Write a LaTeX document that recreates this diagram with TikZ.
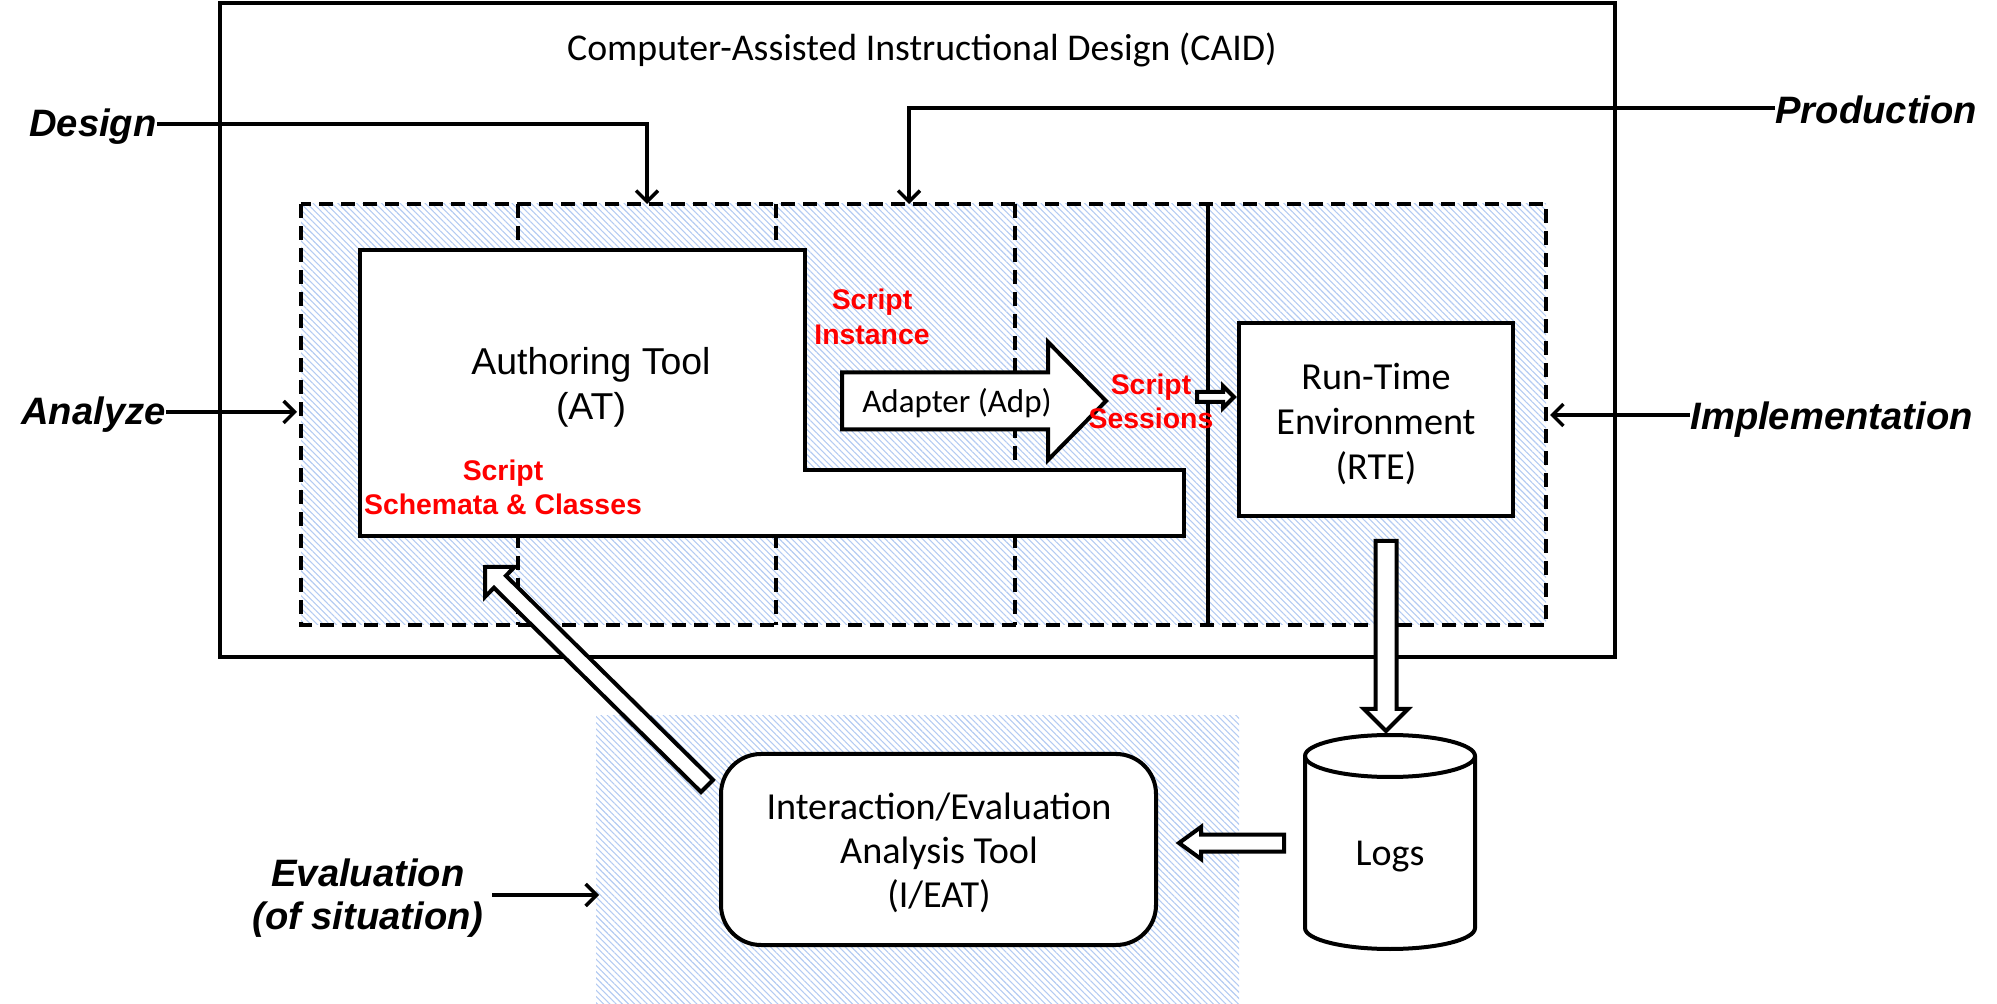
\documentclass[tikz,border=0pt]{standalone}
\usepackage{fontspec}
\setmainfont{Carlito}
\newfontfamily\arialf{Liberation Sans}
\usetikzlibrary{calc,arrows.meta,patterns.meta}
\definecolor{hatchblue}{RGB}{180,203,242}
\tikzset{
  shapeline/.style={line width=2pt, draw=black, fill=white},
  dashline/.style={line width=1.6pt, dash pattern=on 7pt off 4pt},
  hatch/.style={pattern={Lines[angle=-45,distance=2.2pt,line width=0.55pt]}, pattern color=hatchblue},
  thinarrow/.style={line width=1.7pt, -{Straight Barb[length=5.5pt,width=11pt]}},
  phase/.style={font=\arialf\bfseries\itshape\fontsize{19.1}{21.5}\selectfont, inner sep=0pt, align=center},
  redlbl/.style={font=\arialf\bfseries\fontsize{14.2}{17}\selectfont, text=red, align=center, inner sep=0pt},
  boxtext/.style={font=\fontsize{19.1}{22.5}\selectfont, align=center, inner sep=0pt},
  barrow/.style={line width=2pt, draw=black, fill=white, line join=miter},
}
% block arrow: #1 tail, #2 tip, #3 shaft half width, #4 head half width, #5 head length
\newcommand\blockarr[5]{%
  \coordinate (ba-h) at ($(#2)!#5!(#1)$);
  \draw[barrow] ($(#1)!#3!90:(#2)$) -- ($(ba-h)!#3!-90:(#1)$) -- ($(ba-h)!#4!-90:(#1)$) -- (#2)
     -- ($(ba-h)!#4!90:(#1)$) -- ($(ba-h)!#3!90:(#1)$) -- ($(#1)!#3!-90:(#2)$) -- cycle;
}
\begin{document}
\begin{tikzpicture}[x=0.5pt,y=-0.5pt]
\useasboundingbox (0,0) rectangle (1997,1004);

% outer CAID frame
\draw[line width=1.8pt] (220,3) rectangle (1615,657);
\node[font=\fontsize{18.9}{22}\selectfont] (caid) at (922,50) {Computer-Assisted Instructional Design (CAID)};

% hatched phase region
\fill[hatch] (301,204) rectangle (1546,625);
\draw[dashline] (301,204) rectangle (1546,625);
\draw[dashline] (518,204) -- (518,625);
\draw[dashline] (776,204) -- (776,625);
\draw[dashline] (1015,204) -- (1015,625);
\draw[line width=1.6pt] (1208,204) -- (1208,625);

% evaluation hatched region
\fill[hatch] (596,716) rectangle (1239,1004);

% Authoring tool shape
\draw[shapeline] (360,250) -- (805,250) -- (805,470) -- (1184,470) -- (1184,536) -- (360,536) -- cycle;
\node[font=\arialf\fontsize{18.7}{22.5}\selectfont, align=center, inner sep=0pt] (at) at (591,387) {Authoring Tool\\(AT)};
\node[redlbl] (schem) at (503,487) {Script\\Schemata \& Classes};
\node[redlbl, font=\arialf\bfseries\fontsize{14.2}{17.5}\selectfont] (inst) at (872,317) {Script\\Instance};

% Adapter arrow
\coordinate (adpT) at (842,401);
\coordinate (adpH) at (1106,401);
\blockarr{adpT}{adpH}{14.25pt}{29.5pt}{29pt}
\node[font=\fontsize{16.5}{18}\selectfont, inner sep=0pt] (adp) at (957,403) {Adapter (Adp)};

% RTE
\node[draw, line width=2pt, fill=white, minimum width=137pt, minimum height=96.5pt, inner sep=0pt] (rte) at (1376,419.5) {};
\node[boxtext] (rtetxt) at (1376,424) {Run-Time\\Environment\\(RTE)};

% Script sessions
\node[redlbl] (sess) at (1151,401) {Script\\Sessions};
\coordinate (sessT) at (1197,397);
\coordinate (sessH) at (1234,397);
\blockarr{sessT}{sessH}{2.5pt}{5.5pt}{5.5pt}

% Logs cylinder
\filldraw[line width=2pt, fill=white] (1305,756) -- (1305,928) arc[start angle=180,end angle=360,x radius=42.5pt,y radius=10.5pt]
   -- (1475,756) arc[start angle=0,end angle=180,x radius=42.5pt,y radius=10.5pt] -- cycle;
\draw[line width=2pt] (1305,756) arc[start angle=180,end angle=360,x radius=42.5pt,y radius=10.5pt];
\node[font=\fontsize{19}{22}\selectfont, inner sep=0pt] (logs) at (1390,857) {Logs};

% RTE -> Logs
\coordinate (rlT) at (1386,541);
\coordinate (rlH) at (1386,731);
\blockarr{rlT}{rlH}{5.25pt}{11pt}{11pt}

% I/EAT
\node[draw, line width=2pt, fill=white, rounded corners=20pt, minimum width=217.5pt, minimum height=95.5pt, inner sep=0pt] (ieat) at (938.5,849.5) {};
\node[boxtext, font=\fontsize{19.1}{22}\selectfont] (ieattxt) at (939,853) {Interaction/Evaluation\\Analysis Tool\\(I/EAT)};

% Logs -> I/EAT
\coordinate (liT) at (1284,843);
\coordinate (liH) at (1179,843);
\blockarr{liT}{liH}{4.25pt}{8pt}{11pt}

% I/EAT -> AT (diagonal)
\coordinate (iaT) at (707,786);
\coordinate (iaH) at (485,567);
\blockarr{iaT}{iaH}{4.25pt}{10.5pt}{10.5pt}

% phase labels and their arrows
\node[phase, anchor=east] (design) at (157,127) {Design};
\coordinate (designT) at (647,204);
\draw[thinarrow] ([yshift=1.5pt]design.east) -| (designT);

\node[phase, anchor=west] (prod) at (1775,110) {Production};
\coordinate (prodT) at (909,204);
\draw[thinarrow] ([yshift=1pt]prod.west) -| (prodT);

\node[phase, anchor=east] (analyze) at (166,415) {Analyze};
\coordinate (analyzeT) at (297,412);
\draw[thinarrow] ([yshift=1.5pt]analyze.east) -- (analyzeT);

\node[phase, anchor=west] (impl) at (1690,420) {Implementation};
\coordinate (implT) at (1550,415);
\draw[thinarrow] ([yshift=2.5pt]impl.west) -- (implT);

\node[phase, inner sep=4pt] (eval) at (368,898) {Evaluation\\(of situation)};
\coordinate (evalT) at (599,895);
\draw[thinarrow] ([yshift=1.5pt]eval.east) -- (evalT);
\end{tikzpicture}
\end{document}
